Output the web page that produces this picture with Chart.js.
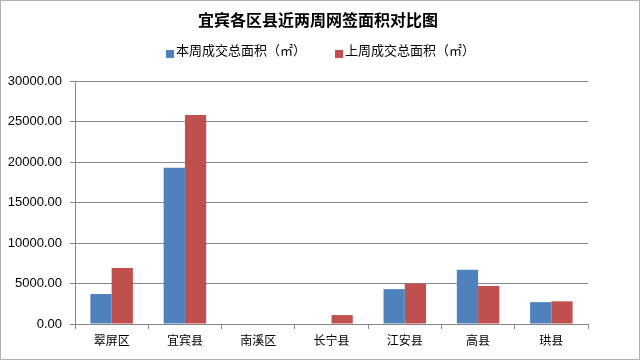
<!DOCTYPE html>
<html><head><meta charset="utf-8">
<script src="https://cdn.jsdelivr.net/npm/chart.js@4/dist/chart.umd.min.js"></script>
<style>html,body{margin:0;padding:0;background:#fff}#wrap{width:640px;height:360px;position:relative}</style>
</head><body><div id="wrap"><canvas id="c" width="640" height="360"></canvas></div>
<script>
const titleText = '宜宾各区县近两周网签面积对比图';
const categories = ['翠屏区','宜宾县','南溪区','长宁县','江安县','高县','珙县'];
const seriesNames = ['本周成交总面积（㎡）','上周成交总面积（㎡）'];
const thisWeek = [3700, 19300, 0, 0, 4300, 6700, 2700];
const lastWeek = [6900, 25800, 0, 1100, 5000, 4700, 2800];
const yTicks = [0, 5000, 10000, 15000, 20000, 25000, 30000];
const seriesColors = ['#4F81BD', '#C0504D'];

const cjk = '"Noto Sans CJK SC", sans-serif';

const decorPlugin = {
  id: 'decor',
  beforeDraw(chart) {
    const ctx = chart.ctx;
    ctx.save();
    ctx.fillStyle = '#fff';
    ctx.fillRect(0, 0, chart.width, chart.height);
    ctx.strokeStyle = '#b0b0b0';
    ctx.lineWidth = 1;
    ctx.strokeRect(0.5, 0.5, chart.width - 1, chart.height - 1);
    ctx.restore();
  },
  afterDraw(chart) {
    const ctx = chart.ctx;
    ctx.save();
    // title
    ctx.fillStyle = '#000';
    ctx.font = 'bold 16px ' + cjk;
    ctx.textAlign = 'center';
    ctx.textBaseline = 'middle';
    ctx.fillText(titleText, 318, 20);
    // legend
    ctx.font = '13px ' + cjk;
    ctx.textAlign = 'left';
    const starts = [166, 335];
    chart.data.datasets.forEach((ds, i) => {
      const x = starts[i];
      ctx.fillStyle = ds.backgroundColor;
      ctx.fillRect(x, 50, 8, 8);
      ctx.fillStyle = '#000';
      ctx.fillText(ds.label, x + 10, 50);
    });
    ctx.restore();
  }
};

new Chart(document.getElementById('c'), {
  type: 'bar',
  data: {
    labels: categories,
    datasets: [
      { label: seriesNames[0], data: thisWeek, backgroundColor: seriesColors[0], categoryPercentage: 0.58, barPercentage: 1.0 },
      { label: seriesNames[1], data: lastWeek, backgroundColor: seriesColors[1], categoryPercentage: 0.58, barPercentage: 1.0 }
    ]
  },
  options: {
    responsive: false,
    animation: false,
    devicePixelRatio: 1,
    layout: { padding: { left: 0, right: 52, top: 81, bottom: 0 } },
    plugins: {
      title: { display: false },
      legend: { display: false },
      tooltip: { enabled: false }
    },
    scales: {
      x: {
        grid: { display: true, drawOnChartArea: false, drawTicks: true, tickLength: 5, color: '#868686', offset: true },
        border: { color: '#868686' },
        ticks: { color: '#000', font: { family: cjk, size: 12 }, padding: 4, maxRotation: 0 },
        afterFit(s) { s.height = 36; }
      },
      y: {
        min: 0, max: 30000,
        afterBuildTicks(s) { s.ticks = yTicks.map(v => ({ value: v })); },
        grid: { color: '#868686', tickLength: 5 },
        border: { color: '#868686' },
        ticks: { color: '#000', font: { family: '"Liberation Sans", sans-serif', size: 13 }, padding: 8, callback: v => Number(v).toFixed(2) },
        afterFit(s) { s.width = 75; }
      }
    }
  },
  plugins: [decorPlugin]
});
</script></body></html>
